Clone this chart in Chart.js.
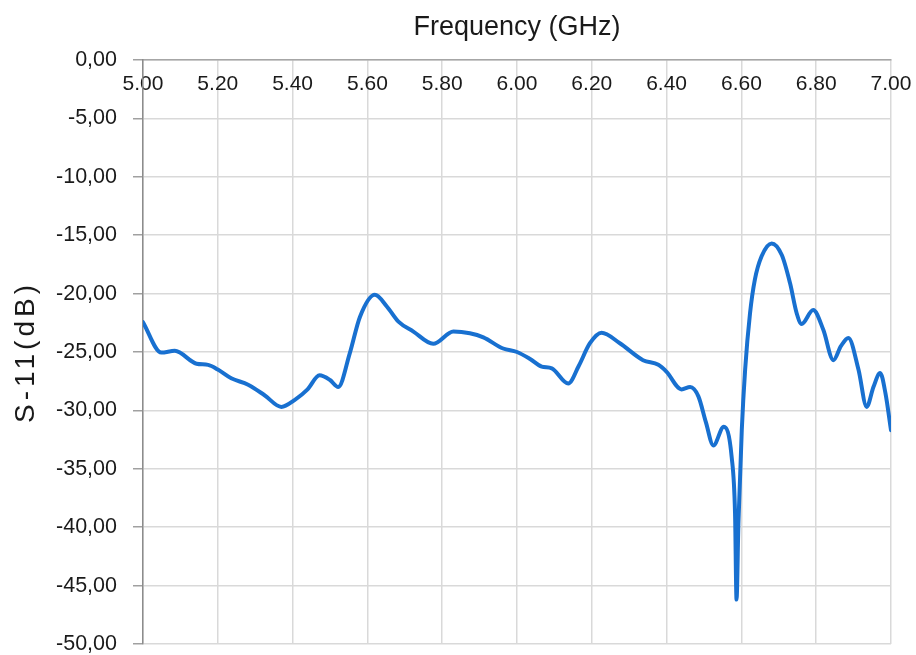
<!DOCTYPE html>
<html>
<head>
<meta charset="utf-8">
<script src="https://cdn.jsdelivr.net/npm/chart.js@4.4.1/dist/chart.umd.min.js"></script>
<style>
  html, body { margin: 0; padding: 0; background: #ffffff; }
  #wrap { width: 916px; height: 655px; position: relative; }
</style>
</head>
<body>
<div id="wrap"><canvas id="c"></canvas></div>
<script>
// Frequency (GHz)
const freqs = [5.000, 5.049, 5.085, 5.143, 5.174, 5.200, 5.236, 5.281, 5.325, 5.370,
  5.406, 5.440, 5.472, 5.500, 5.522, 5.553, 5.580, 5.620, 5.652, 5.683,
  5.723, 5.776, 5.830, 5.874, 5.910, 5.963, 6.000, 6.035, 6.066, 6.093,
  6.137, 6.165, 6.195, 6.226, 6.275, 6.337, 6.378, 6.400, 6.440, 6.463,
  6.485, 6.505, 6.525, 6.553, 6.574, 6.583, 6.587, 6.592, 6.601, 6.610,
  6.623, 6.636, 6.654, 6.681, 6.708, 6.730, 6.748, 6.761, 6.792, 6.819,
  6.846, 6.866, 6.886, 6.913, 6.935, 6.953, 6.971, 6.985, 7.000];
// S-11 (dB)
const s11 = [-22.45, -25.05, -24.9, -26.0, -26.1, -26.5, -27.25, -27.8, -28.7, -29.7,
  -29.1, -28.2, -27.0, -27.4, -28.0, -25.1, -22.0, -20.1, -21.1, -22.4,
  -23.25, -24.3, -23.25, -23.4, -23.75, -24.7, -25.0, -25.6, -26.25, -26.4,
  -27.7, -26.2, -24.25, -23.35, -24.25, -25.7, -26.1, -26.7, -28.2, -28.0,
  -28.8, -31.0, -33.0, -31.4, -34.0, -38.8, -46.2, -39.7, -31.7, -26.5,
  -21.7, -18.8, -16.8, -15.7, -16.7, -19.1, -21.7, -22.6, -21.4, -23.1,
  -25.7, -24.5, -23.8, -26.5, -29.7, -28.0, -26.8, -28.5, -31.7];

const xTitle = 'Frequency (GHz)';
const yTitle = 'S-11(dB)';
const xMin = 5, xMax = 7, xStep = 0.2;
const yMin = -50, yMax = 0, yStep = 5;

const points = freqs.map((f, i) => ({ x: f, y: s11[i] }));
const FONT = "'Liberation Sans', Arial, Helvetica, sans-serif";

// draws the y-axis title with a little letter spacing, like the reference
function spacedTitle(scale) {
  if (scale._spacedPatched) return;
  scale._spacedPatched = true;
  const orig = scale.drawTitle.bind(scale);
  scale.drawTitle = function (area) {
    const ctx = this.ctx;
    ctx.save();
    if ('letterSpacing' in ctx) ctx.letterSpacing = '4px';
    orig(area);
    ctx.restore();
  };
}

new Chart(document.getElementById('c'), {
  type: 'line',
  data: {
    datasets: [{
      data: points,
      borderColor: '#1870d0',
      borderWidth: 4,
      pointRadius: 0,
      fill: false,
      cubicInterpolationMode: 'monotone',
      borderCapStyle: 'round',
      borderJoinStyle: 'round'
    }]
  },
  options: {
    responsive: true,
    maintainAspectRatio: false,
    animation: false,
    devicePixelRatio: 1,
    layout: { padding: { left: 0, right: 25, top: 0, bottom: 11 } },
    plugins: {
      legend: { display: false },
      tooltip: { enabled: false },
      title: {
        display: true,
        text: xTitle,
        position: 'top',
        align: 'center',
        fullSize: false,
        color: '#1a1a1a',
        font: { family: FONT, size: 27, weight: 'normal' },
        padding: { top: 11, bottom: 16.6 }
      }
    },
    scales: {
      x: {
        type: 'linear',
        position: { y: 0 },
        min: xMin, max: xMax,
        afterFit: (s) => { s.paddingLeft = 0; s.paddingRight = 0; },
        ticks: {
          stepSize: xStep,
          padding: 12,
          color: '#1a1a1a',
          font: { family: FONT, size: 21 },
          maxRotation: 0,
          autoSkip: false,
          callback: (v) => Number(v).toFixed(2)
        },
        grid: { color: '#d9d9d9', lineWidth: 1.5, drawTicks: false },
        border: { display: true, color: '#a6a6a6', width: 1.5 }
      },
      y: {
        type: 'linear',
        position: 'left',
        min: yMin, max: yMax,
        afterFit: (s) => { s.width = 143; s.paddingTop = 0; s.paddingBottom = 0; spacedTitle(s); },
        ticks: {
          stepSize: yStep,
          padding: 16,
          color: '#1a1a1a',
          font: { family: FONT, size: 21.5 },
          callback: (v) => Number(v).toFixed(2).replace('.', ',')
        },
        grid: { color: '#d9d9d9', lineWidth: 1.5, drawTicks: true, tickLength: 10, tickColor: '#a0a0a0' },
        border: { display: true, color: '#8c8c8c', width: 1.5 },
        title: {
          display: true, text: yTitle, color: '#1a1a1a',
          font: { family: FONT, size: 28 },
          padding: { top: 9, bottom: 0 }
        }
      }
    }
  }
});
</script>
</body>
</html>
